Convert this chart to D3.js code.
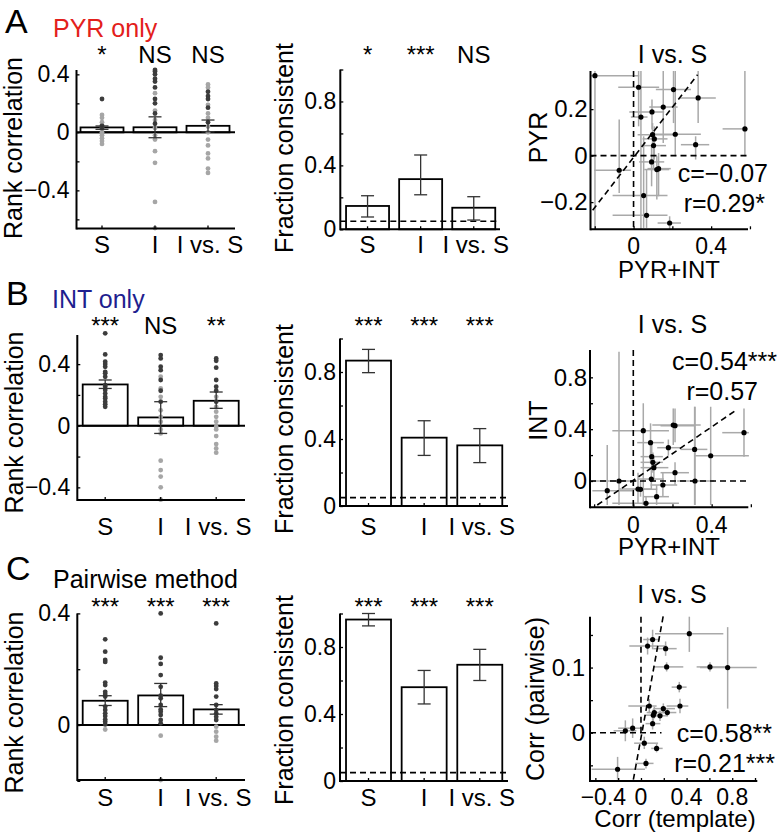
<!DOCTYPE html>
<html><head><meta charset="utf-8">
<script src="https://cdn.jsdelivr.net/npm/d3@7"></script>
<style>
body{margin:0;background:#fff;}
svg text{font-family:"Liberation Sans", Arial, Helvetica, sans-serif;}
</style></head><body>
<svg id="c" width="783" height="835"></svg>
<script>
// ---------------- DATA ----------------
const categories = ["S", "I", "I vs. S"];

// Row A : PYR only
const sigRankA = ["*", "NS", "NS"];
const rankMeanA = [0.034, 0.035, 0.045];
const rankLoA = [0.021, -0.037, 0.004];
const rankHiA = [0.044, 0.107, 0.085];
const rankDarkA = [
  [0.23, 0.045, 0.035, 0.03],
  [0.43, 0.42, 0.40, 0.37, 0.35, 0.31, 0.23, 0.20, 0.13, 0.06],
  [0.28, 0.25, 0.23, 0.17, 0.07]
];
const rankLightA = [
  [0.12, 0.10, 0.07, 0.05, 0.02, 0.0, -0.02, -0.04, -0.06, -0.08],
  [0.27, 0.15, 0.085, 0.03, -0.02, -0.05, -0.13, -0.21, -0.48, -0.66],
  [0.33, 0.31, 0.19, 0.13, 0.10, 0.04, 0.0, -0.05, -0.09, -0.145, -0.18, -0.25, -0.28]
];
const sigFracA = ["*", "***", "NS"];
const fracMeanA = [0.146, 0.314, 0.135];
const fracLoA = [0.077, 0.216, 0.058];
const fracHiA = [0.21, 0.465, 0.204];

// Row B : INT only
const sigRankB = ["***", "NS", "**"];
const rankMeanB = [0.268, 0.054, 0.162];
const rankLoB = [0.242, -0.05, 0.113];
const rankHiB = [0.297, 0.156, 0.219];
const rankDarkB = [
  [0.60, 0.463, 0.416, 0.40, 0.383, 0.35, 0.34, 0.318, 0.264, 0.253, 0.232, 0.21, 0.188, 0.177, 0.156, 0.14, 0.123],
  [0.459, 0.437, 0.383, 0.361, 0.297, 0.227, 0.156],
  [0.437, 0.422, 0.377, 0.297, 0.253, 0.227, 0.156]
];
const rankLightB = [
  [],
  [0.318, 0.242, 0.188, 0.10, 0.058, 0.026, -0.024, -0.05, -0.227, -0.288, -0.33, -0.40, -0.48],
  [0.188, 0.123, 0.091, 0.058, 0.026, -0.006, -0.024, -0.067, -0.119, -0.147, -0.175]
];
const sigFracB = ["***", "***", "***"];
const fracMeanB = [0.868, 0.408, 0.362];
const fracLoB = [0.796, 0.302, 0.259];
const fracHiB = [0.935, 0.509, 0.462];

// Row C : Pairwise method
const sigRankC = ["***", "***", "***"];
const rankMeanC = [0.087, 0.106, 0.056];
const rankLoC = [0.07, 0.066, 0.039];
const rankHiC = [0.105, 0.149, 0.073];
const rankDarkC = [
  [0.307, 0.263, 0.233, 0.226, 0.152, 0.143, 0.119, 0.111, 0.102, 0.066, 0.054, 0.042, 0.032, 0.02, 0.012, 0.002],
  [0.40, 0.241, 0.219, 0.179, 0.137, 0.105, 0.096, 0.072, 0.056, 0.048, 0.036, 0.018, 0.006],
  [0.364, 0.149, 0.14, 0.129, 0.102, 0.072, 0.054, 0.042, 0.030, 0.018]
];
const rankLightC = [
  [-0.016],
  [-0.038, -0.197],
  [-0.006, -0.024, -0.042, -0.056]
];
const sigFracC = ["***", "***", "***"];
const fracMeanC = [0.964, 0.56, 0.694];
const fracLoC = [0.926, 0.46, 0.6];
const fracHiC = [1.0, 0.66, 0.786];

const chanceLevel = 0.05;

// Scatter rows: [x, y, xlo, xhi, ylo, yhi]
const scatterA = [
  [-0.199, 0.344, -0.222, 0.029, -0.317, 0.364],
  [0.026, 0.294, -0.079, 0.132, 0.126, 0.364],
  [0.206, 0.284, 0.115, 0.296, 0.14, 0.364],
  [0.333, 0.248, 0.235, 0.424, 0.14, 0.364],
  [0.153, 0.209, 0.081, 0.227, 0.054, 0.364],
  [0.095, 0.188, -0.022, 0.158, 0.112, 0.241],
  [0.038, 0.166, -0.014, 0.072, -0.317, 0.364],
  [0.574, 0.115, 0.459, 0.588, -0.003, 0.364],
  [0.215, 0.092, 0.089, 0.347, -0.003, 0.364],
  [0.098, 0.090, 0.021, 0.21, 0.04, 0.14],
  [0.107, 0.072, 0.046, 0.175, -0.017, 0.126],
  [0.103, 0.043, 0.038, 0.167, -0.06, 0.083],
  [0.32, 0.047, 0.244, 0.39, -0.017, 0.083],
  [0.093, -0.027, 0.029, 0.158, -0.132, 0.04],
  [-0.074, -0.063, -0.203, -0.014, -0.161, 0.155],
  [0.12, -0.06, 0.055, 0.184, -0.189, -0.003],
  [0.129, -0.056, 0.072, 0.192, -0.175, 0.011],
  [0.052, -0.172, -0.108, 0.175, -0.311, 0.083],
  [0.067, -0.257, -0.108, 0.175, -0.311, -0.06],
  [0.186, -0.29, 0.124, 0.244, -0.317, -0.261]
];
const scatterB = [
  [0.051, 0.388, -0.107, 0.182, -0.185, 0.6],
  [0.204, 0.432, 0.097, 0.344, 0.278, 0.56],
  [0.213, 0.427, 0.139, 0.31, 0.3, 0.56],
  [0.565, 0.373, 0.454, 0.59, 0.188, 0.56],
  [0.088, 0.296, 0.02, 0.156, 0.136, 0.445],
  [0.179, 0.257, 0.122, 0.241, 0.195, 0.32],
  [0.313, 0.244, 0.241, 0.378, -0.185, 0.573],
  [0.395, 0.195, 0.31, 0.59, -0.185, 0.573],
  [0.094, 0.188, 0.037, 0.151, 0.1, 0.278],
  [0.1, 0.144, 0.037, 0.151, 0.064, 0.22],
  [0.105, 0.103, 0.037, 0.179, 0.015, 0.195],
  [0.213, 0.064, 0.139, 0.284, -0.031, 0.144],
  [0.092, 0.015, 0.024, 0.156, -0.064, 0.1],
  [-0.073, 0.0, -0.209, 0.02, -0.185, 0.997],
  [0.315, 0.0, 0.224, 0.412, -0.185, 0.573],
  [0.151, -0.031, 0.088, 0.224, -0.121, 0.064],
  [-0.133, -0.075, -0.209, -0.005, -0.185, 0.278],
  [0.024, -0.062, -0.073, 0.092, -0.172, 0.064],
  [0.037, -0.064, -0.005, 0.122, -0.121, 0.0],
  [0.119, -0.121, 0.051, 0.182, -0.185, -0.031],
  [0.065, -0.172, -0.107, 0.233, -0.185, -0.121]
];
const scatterC = [
  [0.424, 0.152, 0.123, 0.722, 0.124, 0.178],
  [0.102, 0.143, 0.02, 0.167, 0.128, 0.158],
  [0.058, 0.133, -0.102, 0.225, 0.12, 0.146],
  [0.216, 0.129, 0.108, 0.313, 0.118, 0.14],
  [0.605, 0.101, 0.488, 0.751, 0.094, 0.108],
  [0.76, 0.100, 0.518, 1.015, 0.037, 0.162],
  [0.225, 0.101, 0.108, 0.371, 0.094, 0.108],
  [0.336, 0.070, 0.269, 0.4, 0.062, 0.078],
  [0.342, 0.041, 0.225, 0.415, 0.03, 0.052],
  [0.073, 0.041, -0.111, 0.137, 0.03, 0.052],
  [0.196, 0.037, 0.108, 0.298, 0.03, 0.045],
  [0.231, 0.031, 0.15, 0.31, 0.025, 0.038],
  [0.117, 0.031, 0.05, 0.2, 0.022, 0.04],
  [0.108, 0.027, 0.03, 0.19, 0.018, 0.036],
  [0.167, 0.026, 0.1, 0.23, 0.018, 0.034],
  [0.102, 0.014, 0.04, 0.17, 0.005, 0.023],
  [-0.073, 0.007, -0.2, 0.02, -0.008, 0.022],
  [-0.137, 0.003, -0.24, -0.04, -0.013, 0.019],
  [0.029, -0.016, -0.06, 0.15, -0.025, -0.006],
  [0.137, -0.024, 0.09, 0.19, -0.03, -0.017],
  [0.044, -0.047, -0.05, 0.11, -0.055, -0.04],
  [-0.205, -0.056, -0.433, 0.035, -0.072, -0.037]
];
const fitA = [[-0.211, -0.235], [0.33, 0.348]];
const fitB = [[-0.184, -0.185], [0.531, 0.553]];
const fitC = [[-0.067, -0.072], [0.196, 0.18]];
const statsA = ["c=\u22120.07", "r=0.29*"];
const statsB = ["c=0.54***", "r=0.57"];
const statsC = ["c=0.58**", "r=0.21***"];

// ---------------- DRAWING ----------------
const svg = d3.select("#c");
const FONT = '"Liberation Sans", Arial, Helvetica, sans-serif';
const fmt = d => d === 0 ? "0" : d3.format(".1f")(d);

function txt(x, y, s, size, anchor, color) {
  return svg.append("text").attr("x", x).attr("y", y).text(s)
    .attr("font-size", size).attr("text-anchor", anchor || "start")
    .attr("fill", color || "#000").attr("font-family", FONT);
}
function ylab(x, y, s, size) {
  return svg.append("text").attr("transform", `translate(${x},${y}) rotate(-90)`)
    .attr("text-anchor", "middle").attr("font-size", size || 25)
    .attr("font-family", FONT).text(s);
}

function barPanel(p) {
  const g = svg.append("g");
  const y = d3.scaleLinear().domain(p.yDomain).range([p.yBot, p.yTop]);
  const x = d3.scaleBand().domain(categories).range(p.band);
  const cx = i => x(categories[i]) + x.bandwidth() / 2;

  g.selectAll("rect.bar").data(p.means).join("rect").attr("class", "bar")
    .attr("x", (d, i) => cx(i) - p.barW / 2)
    .attr("y", d => y(Math.max(0, d)))
    .attr("width", p.barW)
    .attr("height", d => Math.abs(y(d) - y(0)))
    .attr("fill", "#fff").attr("stroke", "#000").attr("stroke-width", 1.8);

  if (p.zeroLine) g.append("line").attr("x1", p.axisX).attr("x2", p.xRight)
    .attr("y1", y(0)).attr("y2", y(0)).attr("stroke", "#000").attr("stroke-width", 2);
  if (p.chance != null) g.append("line").attr("x1", p.axisX).attr("x2", p.xRight)
    .attr("y1", y(p.chance)).attr("y2", y(p.chance)).attr("stroke", "#000")
    .attr("stroke-width", 1.6).attr("stroke-dasharray", "6,4");

  if (p.light) p.light.forEach((arr, i) => arr.forEach(v =>
    g.append("circle").attr("cx", cx(i)).attr("cy", y(v)).attr("r", 2.4).attr("fill", "#a6a6a6")));
  if (p.dark) p.dark.forEach((arr, i) => arr.forEach(v =>
    g.append("circle").attr("cx", cx(i)).attr("cy", y(v)).attr("r", 2.4).attr("fill", "#3c3c3c")));

  p.means.forEach((m, i) => {
    const c = cx(i), lo = y(p.lo[i]), hi = y(p.hi[i]);
    g.append("line").attr("x1", c).attr("x2", c).attr("y1", lo).attr("y2", hi);
    g.append("line").attr("x1", c - 6.5).attr("x2", c + 6.5).attr("y1", lo).attr("y2", lo);
    g.append("line").attr("x1", c - 6.5).attr("x2", c + 6.5).attr("y1", hi).attr("y2", hi);
  });
  g.selectAll("line").filter(function () { return !this.getAttribute("stroke"); })
    .attr("stroke", "#333").attr("stroke-width", 1.3);

  const ya = d3.axisLeft(y).tickValues(p.yTicks).tickSizeInner(-3).tickSizeOuter(0)
    .tickPadding(p.pad).tickFormat(d => p.yLabeled.includes(d) ? fmt(d) : "");
  const yg = g.append("g").attr("transform", `translate(${p.axisX},0)`).call(ya);
  yg.select(".domain").remove();
  yg.selectAll("line").attr("stroke", "#000").attr("stroke-width", 1.3);
  yg.selectAll("text").attr("font-size", 23).attr("font-family", FONT).attr("fill", "#000");

  const xa = d3.axisBottom(x).tickSizeInner(-3).tickSizeOuter(0).tickFormat("");
  const xg = g.append("g").attr("transform", `translate(0,${p.yBot})`).call(xa);
  xg.select(".domain").remove();
  xg.selectAll("line").attr("stroke", "#000").attr("stroke-width", 1.3);

  g.append("line").attr("x1", p.axisX).attr("x2", p.axisX).attr("y1", p.yTop).attr("y2", p.yBot + 1)
    .attr("stroke", "#000").attr("stroke-width", 2);
  g.append("line").attr("x1", p.axisX).attr("x2", p.xRight).attr("y1", p.yBot).attr("y2", p.yBot)
    .attr("stroke", "#000").attr("stroke-width", 2);

  categories.forEach((c, i) => txt(cx(i) + (i === 2 ? 2 : 0), p.catBase, c, 24, "middle"));
  p.sig.forEach((s, i) => txt(cx(i), p.sigBase, s, 24, "middle"));
  ylab(p.ylabX, p.ylabY, p.ylabel, 25);
}

function scatterPanel(p) {
  const g = svg.append("g");
  const x = d3.scaleLinear().domain(p.xDomain).range([p.axisX, p.xRight]);
  const y = d3.scaleLinear().domain(p.yDomain).range([p.yBot, p.yTop]);
  const grey = "#a9a9a9";
  p.data.forEach(d => {
    g.append("line").attr("x1", x(d[2])).attr("x2", x(d[3])).attr("y1", y(d[1])).attr("y2", y(d[1]))
      .attr("stroke", grey).attr("stroke-width", 1.5);
    g.append("line").attr("x1", x(d[0])).attr("x2", x(d[0])).attr("y1", y(d[4])).attr("y2", y(d[5]))
      .attr("stroke", grey).attr("stroke-width", 1.5);
  });
  const dash = sel => sel.attr("stroke", "#000").attr("stroke-width", 1.6).attr("stroke-dasharray", "6,4").attr("fill", "none");
  dash(g.append("line").attr("x1", x(0)).attr("x2", x(0)).attr("y1", p.yTop).attr("y2", p.vEnd != null ? y(p.vEnd) : p.yBot));
  dash(g.append("line").attr("x1", p.axisX).attr("x2", p.hEnd != null ? x(p.hEnd) : p.xRight).attr("y1", y(0)).attr("y2", y(0)));
  dash(g.append("line").attr("x1", x(p.fit[0][0])).attr("y1", y(p.fit[0][1]))
    .attr("x2", x(p.fit[1][0])).attr("y2", y(p.fit[1][1])));
  p.data.forEach(d => g.append("circle").attr("cx", x(d[0])).attr("cy", y(d[1])).attr("r", 2.6).attr("fill", "#000"));

  const ya = d3.axisLeft(y).tickValues(p.yTicks).tickSizeInner(-3).tickSizeOuter(0)
    .tickPadding(p.ypad).tickFormat(d => p.yLabeled.includes(d) ? fmt(d) : "");
  const yg = g.append("g").attr("transform", `translate(${p.axisX},0)`).call(ya);
  yg.select(".domain").remove();
  yg.selectAll("line").attr("stroke", "#000").attr("stroke-width", 1.3);
  yg.selectAll("text").attr("font-size", 24).attr("font-family", FONT).attr("fill", "#000");

  const xa = d3.axisBottom(x).tickValues(p.xTicks).tickSizeInner(-3).tickSizeOuter(0).tickFormat("");
  const xg = g.append("g").attr("transform", `translate(0,${p.yBot})`).call(xa);
  xg.select(".domain").remove();
  xg.selectAll("line").attr("stroke", "#000").attr("stroke-width", 1.3);
  p.xLabeled.forEach(v => txt(x(v) + (v < 0 ? 8 : 0), p.xtickBase, fmt(v), 23, "middle"));

  g.append("line").attr("x1", p.axisX).attr("x2", p.axisX).attr("y1", p.yTop).attr("y2", p.yBot + 1)
    .attr("stroke", "#000").attr("stroke-width", 2);
  g.append("line").attr("x1", p.axisX).attr("x2", p.xRight).attr("y1", p.yBot).attr("y2", p.yBot)
    .attr("stroke", "#000").attr("stroke-width", 2);

  txt(p.titleX, p.titleBase, "I vs. S", 25, "middle");
  txt(p.cX, p.cBase, p.stats[0], 25, "end");
  txt(p.rX, p.rBase, p.stats[1], 25, "end");
  txt(p.xlabX, p.xlabBase, p.xlabel, 24, "middle");
  ylab(p.ylabX, p.ylabY, p.ylabel, 25);
}

// ---- Row A ----
txt(5, 33, "A", 34);
txt(53, 37, "PYR only", 25, "start", "#e3201b");
barPanel({yDomain: [-0.663, 0.43], yTop: 70, yBot: 228.5, axisX: 76.5, xRight: 235, band: [75.5, 234.5], barW: 43,
  means: rankMeanA, lo: rankLoA, hi: rankHiA, dark: rankDarkA, light: rankLightA, zeroLine: true,
  yTicks: [-0.6, -0.4, -0.2, 0, 0.2, 0.4], yLabeled: [-0.4, 0, 0.4], pad: 7,
  sig: sigRankA, sigBase: 62.5, catBase: 253, ylabel: "Rank correlation", ylabX: 22, ylabY: 148});
barPanel({yDomain: [0, 1], yTop: 69.5, yBot: 229.3, axisX: 340.3, xRight: 500, band: [341, 500.3], barW: 43,
  means: fracMeanA, lo: fracLoA, hi: fracHiA, chance: chanceLevel,
  yTicks: [0, 0.2, 0.4, 0.6, 0.8, 1.0], yLabeled: [0, 0.4, 0.8], pad: 4,
  sig: sigFracA, sigBase: 62.5, catBase: 253, ylabel: "Fraction consistent", ylabX: 293, ylabY: 148});
scatterPanel({data: scatterA, fit: fitA, stats: statsA,
  xDomain: [-0.222, 0.59], yDomain: [-0.317, 0.364], axisX: 590.5, xRight: 748, yTop: 71, yBot: 229.3,
  yTicks: [-0.2, 0, 0.2], yLabeled: [-0.2, 0, 0.2], ypad: 3,
  xTicks: [-0.2, 0, 0.2, 0.4, 0.6], xLabeled: [0, 0.4], xtickBase: 254,
  titleX: 672.5, titleBase: 63, cX: 768, cBase: 182, rX: 765, rBase: 212,
  xlabel: "PYR+INT", xlabX: 669, xlabBase: 278, ylabel: "PYR", ylabX: 547, ylabY: 137.5});

// ---- Row B ----
txt(6, 305, "B", 34);
txt(52, 308, "INT only", 25, "start", "#1f1f8f");
barPanel({yDomain: [-0.482, 0.589], yTop: 335, yBot: 500, axisX: 77.3, xRight: 245, band: [77.45, 243.95], barW: 45,
  means: rankMeanB, lo: rankLoB, hi: rankHiB, dark: rankDarkB, light: rankLightB, zeroLine: true,
  yTicks: [-0.4, -0.2, 0, 0.2, 0.4], yLabeled: [-0.4, 0, 0.4], pad: 7,
  sig: sigRankB, sigBase: 334, catBase: 535, ylabel: "Rank correlation", ylabX: 23, ylabY: 422.5});
barPanel({yDomain: [0, 1], yTop: 338.5, yBot: 506, axisX: 340, xRight: 508, band: [340.7, 507.6], barW: 45,
  means: fracMeanB, lo: fracLoB, hi: fracHiB, chance: chanceLevel,
  yTicks: [0, 0.2, 0.4, 0.6, 0.8, 1.0], yLabeled: [0, 0.4, 0.8], pad: 4,
  sig: sigFracB, sigBase: 334, catBase: 535, ylabel: "Fraction consistent", ylabX: 293, ylabY: 429});
scatterPanel({data: scatterB, fit: fitB, stats: statsB,
  xDomain: [-0.221, 0.587], yDomain: [-0.203, 1.011], axisX: 590, xRight: 748.3, yTop: 350, yBot: 507.3,
  yTicks: [0, 0.2, 0.4, 0.6, 0.8], yLabeled: [0, 0.4, 0.8], ypad: 3,
  xTicks: [-0.2, 0, 0.2, 0.4, 0.6], xLabeled: [0, 0.4], xtickBase: 533,
  titleX: 672.5, titleBase: 333, cX: 777, cBase: 370, rX: 758, rBase: 400,
  xlabel: "PYR+INT", xlabX: 669, xlabBase: 555, ylabel: "INT", ylabX: 547, ylabY: 420.5});

// ---- Row C ----
txt(6, 580, "C", 34);
txt(53, 588, "Pairwise method", 25, "start");
barPanel({yDomain: [-0.197, 0.4], yTop: 613.4, yBot: 780, axisX: 77.3, xRight: 245, band: [77.45, 243.95], barW: 45,
  means: rankMeanC, lo: rankLoC, hi: rankHiC, dark: rankDarkC, light: rankLightC, zeroLine: true,
  yTicks: [-0.2, 0, 0.2, 0.4], yLabeled: [0, 0.4], pad: 7,
  sig: sigRankC, sigBase: 615, catBase: 806, ylabel: "Rank correlation", ylabX: 23, ylabY: 702.5});
barPanel({yDomain: [0, 1], yTop: 613.5, yBot: 781, axisX: 340, xRight: 508, band: [340.7, 507.6], barW: 45,
  means: fracMeanC, lo: fracLoC, hi: fracHiC, chance: chanceLevel,
  yTicks: [0, 0.2, 0.4, 0.6, 0.8, 1.0], yLabeled: [0, 0.4, 0.8], pad: 4,
  sig: sigFracC, sigBase: 615, catBase: 806, ylabel: "Fraction consistent", ylabX: 293, ylabY: 700});
scatterPanel({data: scatterC, fit: fitC, stats: statsC, vEnd: 0, hEnd: 0.18,
  xDomain: [-0.447, 1.02], yDomain: [-0.074, 0.178], axisX: 590, xRight: 757.3, yTop: 616.7, yBot: 781,
  yTicks: [-0.05, 0, 0.05, 0.1, 0.15], yLabeled: [0, 0.1], ypad: 5,
  xTicks: [-0.4, -0.2, 0, 0.2, 0.4, 0.6, 0.8, 1.0], xLabeled: [-0.4, 0, 0.4, 0.8], xtickBase: 805,
  titleX: 672, titleBase: 603, cX: 772, cBase: 742, rX: 775, rBase: 772,
  xlabel: "Corr (template)", xlabX: 675, xlabBase: 827, ylabel: "Corr (pairwise)", ylabX: 543.5, ylabY: 699});
</script>
</body></html>
